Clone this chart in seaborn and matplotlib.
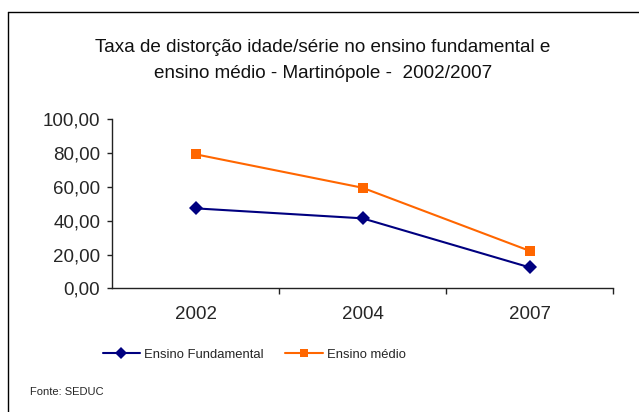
import matplotlib
matplotlib.use("Agg")
import matplotlib.pyplot as plt
from matplotlib.lines import Line2D
import pandas as pd
import seaborn as sns

anos = ["2002", "2004", "2007"]
fundamental = [47.3, 41.4, 12.4]
medio = [79.3, 59.5, 22.2]
series = ["Ensino Fundamental", "Ensino médio"]
yticks = [0, 20, 40, 60, 80, 100]

df = pd.DataFrame({
    "Ano": anos * 2,
    "Taxa": fundamental + medio,
    "Serie": [series[0]] * len(anos) + [series[1]] * len(anos),
})

sns.set_style("white")
plt.rcParams["font.family"] = ["Liberation Sans", "DejaVu Sans"]

fig = plt.figure(figsize=(6.39, 4.12), dpi=100)
ax = fig.add_axes([112 / 639, 1 - 288.3 / 412, (613 - 112) / 639, (288.3 - 119.3) / 412])

palette = {series[0]: "#000080", series[1]: "#FF6600"}
markers = {series[0]: "D", series[1]: "s"}
sns.lineplot(
    data=df, x="Ano", y="Taxa", hue="Serie", style="Serie",
    palette=palette, markers=markers, dashes=False, sort=False,
    linewidth=1.5, markersize=7.5, markeredgewidth=0, ax=ax,
)

ax.set_xlim(-0.5, len(anos) - 0.5)
ax.set_ylim(0, 100)
ax.set_yticks(yticks)
ax.set_yticklabels([f"{v:.2f}".replace(".", ",") for v in yticks])
ax.set_xticks(range(len(anos)))
ax.set_xticklabels(anos)
ax.set_xticks([i + 0.5 for i in range(len(anos))], minor=True)
ax.tick_params(axis="x", which="major", length=0, pad=13, labelsize=13.5)
ax.tick_params(axis="x", which="minor", length=4, width=1, color="#222222", direction="out", bottom=True)
ax.tick_params(axis="y", length=3.5, width=1, color="#222222", direction="out", left=True, pad=5, labelsize=13.5)
ax.set_xlabel("")
ax.set_ylabel("")
for s in ["top", "right"]:
    ax.spines[s].set_visible(False)
for s in ["left", "bottom"]:
    ax.spines[s].set_color("#222222")
    ax.spines[s].set_linewidth(1)

ax.legend(
    loc="center left", bbox_to_anchor=(96 / 639, 1 - 355 / 412),
    bbox_transform=fig.transFigure, ncol=2, frameon=False, fontsize=9.4,
    handlelength=2.9, handletextpad=0.3, columnspacing=1.6, borderpad=0,
    markerscale=0.85,
)

fig.text(0.505, 1 - 48 / 412, "Taxa de distorção idade/série no ensino fundamental e",
         ha="center", va="center", fontsize=13.6, color="#111111")
fig.text(0.505, 1 - 73 / 412, "ensino médio - Martinópole -  2002/2007",
         ha="center", va="center", fontsize=13.6, color="#111111")
fig.text(30 / 639, 1 - 392 / 412, "Fonte: SEDUC", ha="left", va="center", fontsize=8)

fig.add_artist(Line2D([7.5 / 639, 7.5 / 639], [0, 1 - 12 / 412], transform=fig.transFigure, color="black", lw=1))
fig.add_artist(Line2D([7.5 / 639, 1], [1 - 12 / 412, 1 - 12 / 412], transform=fig.transFigure, color="black", lw=1))

fig.savefig("out.png", dpi=100)
